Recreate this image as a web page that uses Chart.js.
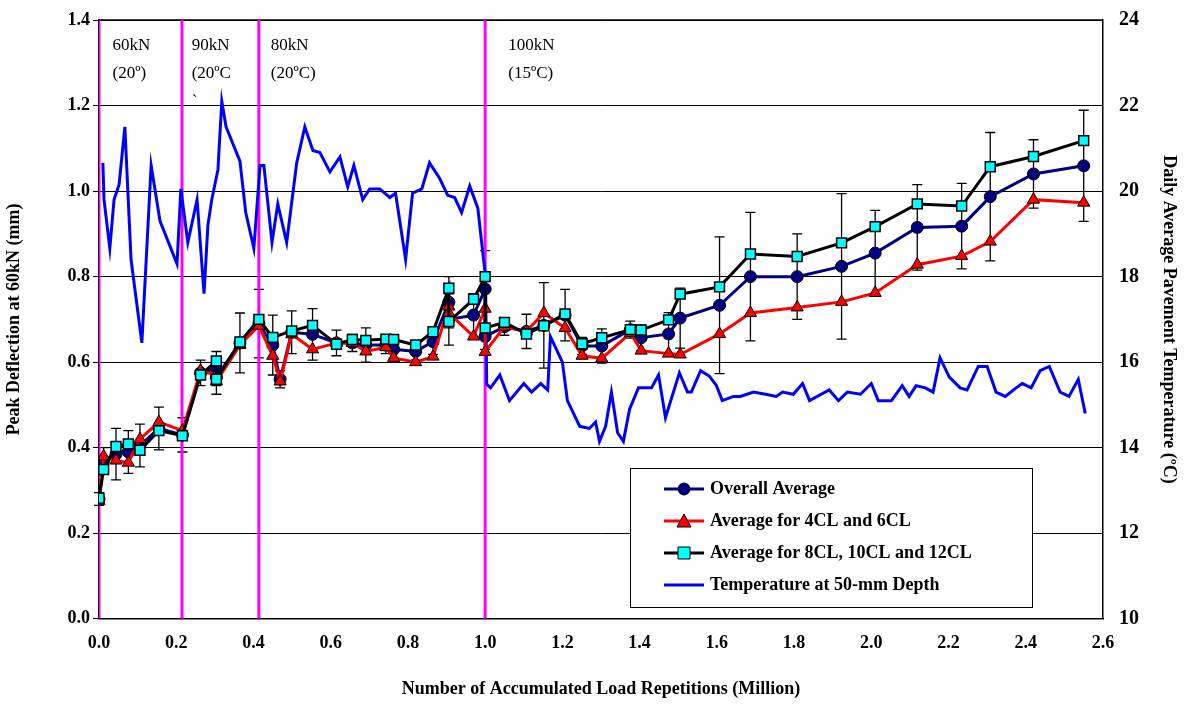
<!DOCTYPE html>
<html>
<head>
<meta charset="utf-8">
<script src="https://cdn.jsdelivr.net/npm/chart.js@4"></script>
<style>
  body { margin: 0; background: #fff; }
  #wrap { width: 1193px; height: 712px; }
</style>
</head>
<body>
<div id="wrap"><canvas id="defChart"></canvas></div>
<script>
// load repetitions (million)
const reps = [0.0, 0.012, 0.044, 0.076, 0.106, 0.155, 0.216, 0.263, 0.304, 0.304, 0.365, 0.414, 0.45, 0.469, 0.499, 0.553,
  0.615, 0.656, 0.691, 0.743, 0.763, 0.82, 0.865, 0.906, 0.906, 0.97, 1.0, 1.0, 1.05, 1.107, 1.152, 1.207, 1.251, 1.302,
  1.376, 1.404, 1.475, 1.505, 1.607, 1.687, 1.808, 1.923, 2.01, 2.119, 2.234, 2.308, 2.42, 2.55];
const overallAvg = [0.28, 0.37, 0.385, 0.39, 0.405, 0.445, 0.43, 0.575, 0.585, 0.565, 0.645, 0.69, 0.64, 0.56, 0.67, 0.665,
  0.645, 0.645, 0.64, 0.64, 0.63, 0.625, 0.648, 0.74, 0.70, 0.71, 0.771, 0.66, 0.683, 0.672, 0.686, 0.71, 0.638, 0.638,
  0.676, 0.657, 0.666, 0.703, 0.733, 0.80, 0.80, 0.824, 0.855, 0.915, 0.918, 0.987, 1.04, 1.059];
const avg46 = [0.275, 0.38, 0.37, 0.365, 0.42, 0.46, 0.44, 0.58, 0.57, 0.555, 0.64, 0.685, 0.615, 0.555, 0.665, 0.63,
  0.645, 0.645, 0.625, 0.635, 0.61, 0.60, 0.613, 0.73, 0.715, 0.66, 0.725, 0.624, 0.683, 0.672, 0.715, 0.68, 0.615, 0.609,
  0.668, 0.627, 0.62, 0.618, 0.666, 0.715, 0.728, 0.741, 0.762, 0.828, 0.848, 0.882, 0.98, 0.973];
const avg81012 = [0.282, 0.349, 0.403, 0.409, 0.394, 0.44, 0.428, 0.57, 0.603, 0.56, 0.647, 0.70, 0.658, null, 0.673, 0.686,
  0.642, 0.653, 0.651, 0.654, 0.653, 0.64, 0.671, 0.773, 0.695, 0.747, 0.80, 0.68, 0.693, 0.666, 0.685, 0.713, 0.643, 0.657,
  0.676, 0.675, 0.699, 0.759, 0.776, 0.853, 0.847, 0.879, 0.917, 0.970, 0.965, 1.057, 1.081, 1.118];
const errHalf = [0.015, 0.03, 0.06, 0.05, 0.05, 0.05, 0.04, 0.03, 0.04, 0.04, 0.07, 0.08, 0.07, 0.02, 0.05, 0.06, 0.03, 0.02,
  0.04, 0.02, 0.02, 0.02, 0.03, 0.06, 0.06, 0.05, 0.09, 0.03, 0.02, 0.04, 0.1, 0.06, 0.02, 0.04, 0.02, 0.03, 0.05, 0.07,
  0.16, 0.15, 0.1, 0.17, 0.1, 0.1, 0.1, 0.15, 0.08, 0.13];

// temperature at 50 mm depth
const tempReps = [0.01, 0.013, 0.028, 0.039, 0.052, 0.067, 0.083, 0.111, 0.135, 0.158, 0.202, 0.212, 0.23, 0.254, 0.272,
  0.282, 0.292, 0.308, 0.318, 0.329, 0.365, 0.38, 0.401, 0.417, 0.427, 0.448, 0.463, 0.486, 0.512, 0.533, 0.554, 0.572,
  0.598, 0.624, 0.644, 0.66, 0.683, 0.701, 0.727, 0.753, 0.768, 0.794, 0.812, 0.836, 0.856, 0.882, 0.903, 0.921, 0.939,
  0.96, 0.981, 0.994, 1.001, 1.004, 1.014, 1.038, 1.063, 1.1, 1.12, 1.144, 1.162, 1.169, 1.2, 1.213, 1.245, 1.27, 1.286,
  1.296, 1.312, 1.327, 1.343, 1.358, 1.374, 1.397, 1.431, 1.449, 1.467, 1.503, 1.524, 1.534, 1.558, 1.581, 1.599, 1.614,
  1.643, 1.661, 1.695, 1.726, 1.754, 1.77, 1.798, 1.822, 1.84, 1.891, 1.915, 1.938, 1.972, 2.0, 2.018, 2.052, 2.08, 2.098,
  2.116, 2.14, 2.16, 2.178, 2.202, 2.23, 2.248, 2.277, 2.3, 2.323, 2.347, 2.375, 2.391, 2.414, 2.437, 2.461, 2.489, 2.512,
  2.536, 2.554];
const temps = [20.66, 19.8, 18.66, 19.8, 20.15, 21.5, 18.4, 16.45, 20.6, 19.3, 18.3, 20.05, 18.8, 19.8, 17.6,
  19.2, 19.8, 20.5, 22.1, 21.5, 20.7, 19.5, 18.66, 20.6, 20.6, 18.8, 19.7, 18.8, 20.66, 21.5, 20.95, 20.9,
  20.45, 20.8, 20.1, 20.6, 19.8, 20.05, 20.05, 19.85, 19.95, 18.4, 19.95, 20.05, 20.66, 20.3, 19.9, 19.85, 19.5,
  20.12, 19.6, 18.55, 18.0, 15.48, 15.4, 15.7, 15.1, 15.5, 15.3, 15.5, 15.35, 16.6, 16.0, 15.1, 14.5, 14.45, 14.6,
  14.15, 14.5, 15.3, 14.35, 14.15, 14.9, 15.4, 15.4, 15.7, 14.7, 15.75, 15.3, 15.3, 15.8, 15.67, 15.45, 15.1,
  15.2, 15.2, 15.3, 15.25, 15.2, 15.3, 15.25, 15.5, 15.1, 15.35, 15.1, 15.3, 15.25, 15.5, 15.1, 15.1, 15.45, 15.2,
  15.45, 15.4, 15.3, 16.1, 15.65, 15.4, 15.35, 15.9, 15.9, 15.3, 15.2, 15.4, 15.5, 15.4, 15.8, 15.9, 15.3, 15.2,
  15.6, 14.8];

const loadChanges = [0.0, 0.215, 0.414, 1.0];
const loadNotes = [
  { x: 0.035, lines: ['60kN', '(20º)'] },
  { x: 0.24, lines: ['90kN', '(20ºC', '`'] },
  { x: 0.445, lines: ['80kN', '(20ºC)'] },
  { x: 1.06, lines: ['100kN', '(15ºC)'] },
];

const font = 'Liberation Serif';
const pts = (ys) => reps.map((x, i) => ({ x, y: ys[i] }));

const datasets = [
  {
    label: 'Average for 8CL, 10CL and 12CL', data: pts(avg81012), order: 1,
    borderColor: '#000', borderWidth: 3, pointStyle: 'rect', pointRadius: 7,
    pointBackgroundColor: '#00ffff', pointBorderColor: '#000', pointBorderWidth: 1.5, spanGaps: true,
  },
  {
    label: 'Average for 4CL and 6CL', data: pts(avg46), order: 2,
    borderColor: '#ff0000', borderWidth: 3, pointStyle: 'triangle', pointRadius: 7,
    pointBackgroundColor: '#ff0000', pointBorderColor: '#000', pointBorderWidth: 1,
  },
  {
    label: 'Overall Average', data: pts(overallAvg), order: 3,
    borderColor: '#000080', borderWidth: 3, pointStyle: 'circle', pointRadius: 6,
    pointBackgroundColor: '#000080', pointBorderColor: '#000', pointBorderWidth: 1,
  },
  {
    label: 'Temperature at 50-mm Depth', data: tempReps.map((x, i) => ({ x, y: temps[i] })), order: 4,
    yAxisID: 'y2', borderColor: '#0000ff', borderWidth: 3, pointRadius: 0,
  },
];
loadChanges.forEach((x) => datasets.push({
  label: 'load', data: [{ x, y: 0 }, { x, y: 1.4 }], order: 5,
  borderColor: '#ff00ff', borderWidth: 3, pointRadius: 0,
}));

const extras = {
  id: 'extras',
  beforeDatasetsDraw(c) {
    const { ctx, chartArea: a, scales: { x, y } } = c;
    ctx.save();
    ctx.strokeStyle = '#000';
    ctx.lineWidth = 1.5;
    ctx.beginPath(); ctx.moveTo(a.left, a.top); ctx.lineTo(a.right, a.top); ctx.stroke();
    ctx.lineWidth = 1.3;
    reps.forEach((r, i) => {
      const px = x.getPixelForValue(r);
      const top = y.getPixelForValue(overallAvg[i] + errHalf[i]);
      const bot = y.getPixelForValue(overallAvg[i] - errHalf[i]);
      ctx.beginPath();
      ctx.moveTo(px, top); ctx.lineTo(px, bot);
      ctx.moveTo(px - 5, top); ctx.lineTo(px + 5, top);
      ctx.moveTo(px - 5, bot); ctx.lineTo(px + 5, bot);
      ctx.stroke();
    });
    ctx.restore();
  },
  afterDatasetsDraw(c) {
    const { ctx, chartArea: a, scales: { x } } = c;
    ctx.save();
    ctx.fillStyle = '#000';
    ctx.font = `17px "${font}"`;
    ctx.textBaseline = 'middle';
    loadNotes.forEach((n) => {
      n.lines.forEach((t, k) => ctx.fillText(t, x.getPixelForValue(n.x), a.top + 26 + k * 28));
    });
    // legend box
    const bx = 630, by = 468, bw = 402, bh = 139;
    ctx.fillStyle = '#fff';
    ctx.fillRect(bx, by, bw, bh);
    ctx.strokeStyle = '#000';
    ctx.lineWidth = 1;
    ctx.strokeRect(bx + 0.5, by + 0.5, bw, bh);
    const items = [datasets[2], datasets[1], datasets[0], datasets[3]];
    ctx.font = `bold 18px "${font}"`;
    items.forEach((d, k) => {
      const yy = by + 21 + k * 32;
      ctx.strokeStyle = d.borderColor;
      ctx.lineWidth = 3;
      ctx.beginPath(); ctx.moveTo(bx + 34, yy); ctx.lineTo(bx + 74, yy); ctx.stroke();
      if (d.pointRadius) {
        ctx.fillStyle = d.pointBackgroundColor;
        ctx.strokeStyle = '#000';
        ctx.lineWidth = 1;
        ctx.beginPath();
        if (d.pointStyle === 'circle') ctx.arc(bx + 54, yy, 6, 0, Math.PI * 2);
        else if (d.pointStyle === 'rect') ctx.rect(bx + 48, yy - 6, 12, 12);
        else { ctx.moveTo(bx + 54, yy - 7); ctx.lineTo(bx + 61, yy + 6); ctx.lineTo(bx + 47, yy + 6); ctx.closePath(); }
        ctx.fill(); ctx.stroke();
      }
      ctx.fillStyle = '#000';
      ctx.fillText(d.label, bx + 80, yy);
    });
    ctx.restore();
  },
};

const tickFont = { family: font, size: 18, weight: 'bold' };
new Chart(document.getElementById('defChart'), {
  type: 'scatter',
  data: { datasets: datasets.map((d) => ({ showLine: true, tension: 0, ...d })) },
  plugins: [extras],
  options: {
    animation: false,
    responsive: true,
    maintainAspectRatio: false,
    layout: { padding: { top: 14, right: 0, bottom: 8 } },
    plugins: { legend: { display: false }, tooltip: { enabled: false } },
    scales: {
      x: {
        type: 'linear', min: 0, max: 2.6,
        ticks: { stepSize: 0.2, font: tickFont, color: '#000', callback: (v) => v.toFixed(1), padding: 6 },
        grid: { display: false },
        border: { color: '#000', width: 1.5 },
        title: { display: true, text: 'Number of Accumulated Load Repetitions (Million)', font: tickFont, color: '#000', padding: { top: 18 } },
      },
      y: {
        min: 0, max: 1.4,
        ticks: { stepSize: 0.2, font: tickFont, color: '#000', callback: (v) => v.toFixed(1) },
        grid: { color: '#000', lineWidth: 1, drawTicks: true, tickLength: 6 },
        border: { color: '#000', width: 1.5 },
        title: { display: true, text: 'Peak Deflection at 60kN (mm)', font: tickFont, color: '#000', padding: { bottom: 8 } },
        afterFit: (s) => { s.width = 99; },
      },
      y2: {
        position: 'right', min: 10, max: 24,
        ticks: { stepSize: 2, font: { ...tickFont, size: 20 }, color: '#000', padding: 8 },
        grid: { display: false, drawTicks: true },
        border: { color: '#000', width: 1.5 },
        title: { display: true, text: 'Daily Average Pavement Temperature (ºC)', font: tickFont, color: '#000', padding: { top: 14 } },
        afterFit: (s) => { s.width = 90; },
      },
    },
  },
});
</script>
</body>
</html>
